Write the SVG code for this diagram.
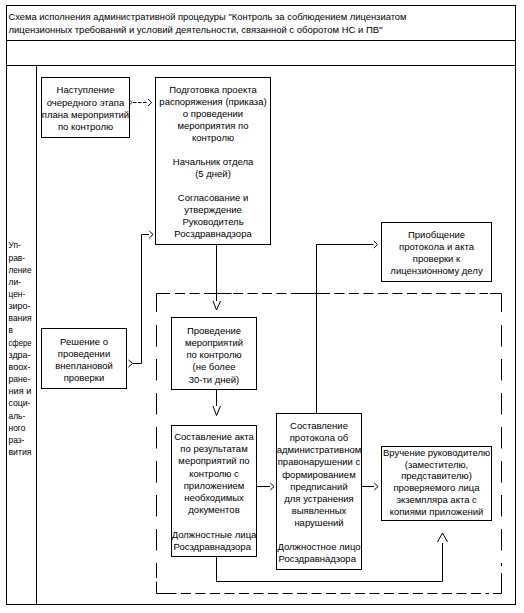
<svg xmlns="http://www.w3.org/2000/svg" width="524" height="613" viewBox="0 0 524 613">
<style>
text{font-family:"Liberation Sans","DejaVu Sans",sans-serif;font-size:9.5px;fill:#000}
.c{text-anchor:middle}
.lb{font-size:8.4px}
.box{fill:#fff;stroke:#000;stroke-width:1}
.ln{fill:none;stroke:#000;stroke-width:1}
.dh{fill:none;stroke:#000;stroke-width:1;stroke-dasharray:10 4.5}
.dv{fill:none;stroke:#000;stroke-width:1;stroke-dasharray:21.5 12.5}
.dd{fill:none;stroke:#000;stroke-width:1;stroke-dasharray:3.5 1.5}
</style>
<rect x="0" y="0" width="524" height="613" fill="#fff"/>
<g id="frame">
<rect x="6.5" y="5.5" width="509" height="599" class="ln"/>
<line x1="6.5" y1="40.5" x2="515.5" y2="40.5" class="ln"/>
<line x1="6.5" y1="65.5" x2="515.5" y2="65.5" class="ln"/>
<line x1="36.5" y1="65.5" x2="36.5" y2="604.5" class="ln"/>
<text x="8.5" y="20" textLength="398" lengthAdjust="spacingAndGlyphs">Схема исполнения административной процедуры "Контроль за соблюдением лицензиатом</text>
<text x="8.5" y="32.7" textLength="374" lengthAdjust="spacingAndGlyphs">лицензионных требований и условий деятельности, связанной с оборотом НС и ПВ"</text>
</g>
<g id="lane-label">
<text class="lb" x="8.5" y="248.3">Уп-</text>
<text class="lb" x="8.5" y="260.5">рав-</text>
<text class="lb" x="8.5" y="272.6" textLength="23" lengthAdjust="spacingAndGlyphs">ление</text>
<text class="lb" x="8.5" y="284.8">ли-</text>
<text class="lb" x="8.5" y="296.9">цен-</text>
<text class="lb" x="8.5" y="309.1" textLength="22" lengthAdjust="spacingAndGlyphs">зиро-</text>
<text class="lb" x="8.5" y="321.3" textLength="23" lengthAdjust="spacingAndGlyphs">вания</text>
<text class="lb" x="8.5" y="333.4">в</text>
<text class="lb" x="8.5" y="345.6" textLength="23" lengthAdjust="spacingAndGlyphs">сфере</text>
<text class="lb" x="8.5" y="357.7" textLength="22" lengthAdjust="spacingAndGlyphs">здра-</text>
<text class="lb" x="8.5" y="369.9" textLength="22" lengthAdjust="spacingAndGlyphs">воох-</text>
<text class="lb" x="8.5" y="382.1" textLength="22" lengthAdjust="spacingAndGlyphs">ране-</text>
<text class="lb" x="8.5" y="394.2" textLength="23" lengthAdjust="spacingAndGlyphs">ния и</text>
<text class="lb" x="8.5" y="406.4" textLength="22" lengthAdjust="spacingAndGlyphs">соци-</text>
<text class="lb" x="8.5" y="418.5">аль-</text>
<text class="lb" x="8.5" y="430.7">ного</text>
<text class="lb" x="8.5" y="442.8">раз-</text>
<text class="lb" x="8.5" y="455" textLength="23" lengthAdjust="spacingAndGlyphs">вития</text>
</g>
<g id="group-frame">
<polyline points="156.5,312 156.5,293.5 170,293.5" class="ln"/>
<line x1="175" y1="293.5" x2="488" y2="293.5" class="dh"/>
<line x1="206.5" y1="293.5" x2="231.5" y2="293.5" class="ln"/>
<line x1="300" y1="293.5" x2="326.5" y2="293.5" class="ln"/>
<polyline points="490,293.5 501.5,293.5 501.5,312" class="ln"/>
<line x1="156.5" y1="325" x2="156.5" y2="578" class="dv"/>
<line x1="501.5" y1="325" x2="501.5" y2="566" class="dv"/>
<polyline points="156.5,581.5 156.5,593.5 176.5,593.5" class="ln"/>
<line x1="181" y1="593.5" x2="489" y2="593.5" class="dh"/>
<polyline points="493,593.5 501.5,593.5 501.5,573" class="ln"/>
</g>
<g id="connectors">
<polyline points="128.5,99 132,102.5 128.5,106" class="ln"/>
<line x1="133" y1="102.5" x2="148" y2="102.5" class="dd"/>
<polyline points="148,99 151.7,102.5 148,106" class="ln"/>
<polyline points="128.5,360 132.5,363.5 128.5,367" class="ln"/>
<polyline points="133,363.5 141.5,363.5 141.5,234.5 149,234.5" class="ln"/>
<polyline points="149.3,231 153,234.5 149.3,238" class="ln"/>
<line x1="216.5" y1="244.5" x2="216.5" y2="301" class="ln"/>
<polyline points="213,301 216.5,310 220.5,301" class="ln"/>
<line x1="216.5" y1="389.5" x2="216.5" y2="406" class="ln"/>
<polyline points="213,406 216.5,415.5 220.5,406" class="ln"/>
<line x1="256.5" y1="486.5" x2="270" y2="486.5" class="ln"/>
<polyline points="270.3,483 274,486.5 270.3,490" class="ln"/>
<line x1="361.5" y1="486.5" x2="374" y2="486.5" class="ln"/>
<polyline points="374.3,483 378,486.5 374.3,490" class="ln"/>
<polyline points="316.5,413.5 316.5,244.5 373.5,244.5" class="ln"/>
<polyline points="373.8,241 377.5,244.5 373.8,248" class="ln"/>
<polyline points="216.5,556.5 216.5,581.5 442.5,581.5 442.5,543" class="ln"/>
<polyline points="437.5,542 442.5,533 447.5,542" class="ln"/>
<polyline points="486.5,241.5 490.5,245 486.5,248.5" class="ln"/>
<polyline points="486.5,471 490.5,474.5 486.5,478" class="ln"/>
</g>
<g id="n-start">
<rect x="41.5" y="77.5" width="88" height="60" class="box"/>
<text class="c" x="85.5" y="93.3">Наступление</text>
<text class="c" x="85.5" y="105.5">очередного этапа</text>
<text class="c" x="85.5" y="117.7">плана мероприятий</text>
<text class="c" x="85.5" y="129.9">по контролю</text>
</g>
<g id="n-prepare">
<rect x="155.5" y="77.5" width="115" height="167" class="box"/>
<text class="c" x="213" y="93.3">Подготовка проекта</text>
<text class="c" x="213" y="105.3">распоряжения (приказа)</text>
<text class="c" x="213" y="117.3">о проведении</text>
<text class="c" x="213" y="129.3">мероприятия по</text>
<text class="c" x="213" y="141.3">контролю</text>
<text class="c" x="213" y="165.3">Начальник отдела</text>
<text class="c" x="213" y="177.3">(5 дней)</text>
<text class="c" x="213" y="201.3">Согласование и</text>
<text class="c" x="213" y="213.3">утверждение</text>
<text class="c" x="213" y="225.3">Руководитель</text>
<text class="c" x="213" y="237.3">Росздравнадзора</text>
</g>
<g id="n-unplanned">
<rect x="41.5" y="328.5" width="85" height="60" class="box"/>
<text class="c" x="84" y="344.5">Решение о</text>
<text class="c" x="84" y="356.7">проведении</text>
<text class="c" x="84" y="368.9">внеплановой</text>
<text class="c" x="84" y="381.1">проверки</text>
</g>
<g id="n-conduct">
<rect x="171.5" y="317.5" width="85" height="72" class="box"/>
<text class="c" x="214" y="333.5">Проведение</text>
<text class="c" x="214" y="345.8">мероприятий</text>
<text class="c" x="214" y="358">по контролю</text>
<text class="c" x="214" y="370.3">(не более</text>
<text class="c" x="214" y="382.5">30-ти дней)</text>
</g>
<g id="n-act">
<rect x="171.5" y="425.5" width="85" height="131" class="box"/>
<text class="c" x="214" y="440">Составление акта</text>
<text class="c" x="214" y="452.2">по результатам</text>
<text class="c" x="214" y="464.4">мероприятий по</text>
<text class="c" x="214" y="476.6">контролю с</text>
<text class="c" x="214" y="488.8">приложением</text>
<text class="c" x="214" y="501">необходимых</text>
<text class="c" x="214" y="513.2">документов</text>
<text class="c" x="214" y="537.6">Должностные лица</text>
<text x="173.5" y="549.8">Росздравнадзора</text>
</g>
<g id="n-protocol">
<rect x="276.5" y="413.5" width="85" height="156" class="box"/>
<text class="c" x="319" y="429.3">Составление</text>
<text class="c" x="319" y="441.3">протокола об</text>
<text class="c" x="319" y="453.4">административном</text>
<text class="c" x="319" y="465.4">правонарушении с</text>
<text class="c" x="319" y="477.5">формированием</text>
<text class="c" x="319" y="489.5">предписаний</text>
<text class="c" x="319" y="501.5">для устранения</text>
<text class="c" x="319" y="513.6">выявленных</text>
<text class="c" x="319" y="525.6">нарушений</text>
<text class="c" x="319" y="549.7">Должностное лицо</text>
<text x="278.5" y="561.7">Росздравнадзора</text>
</g>
<g id="n-handover">
<rect x="381.5" y="446.5" width="110" height="74" class="box"/>
<text class="c" x="436.5" y="456">Вручение руководителю</text>
<text class="c" x="436.5" y="467.7">(заместителю,</text>
<text class="c" x="436.5" y="479.4">представителю)</text>
<text class="c" x="436.5" y="491.1">проверяемого лица</text>
<text class="c" x="436.5" y="502.8">экземпляра акта с</text>
<text class="c" x="436.5" y="514.5">копиями приложений</text>
</g>
<g id="n-attach">
<rect x="381.5" y="222.5" width="110" height="59" class="box"/>
<text class="c" x="436.5" y="238.3">Приобщение</text>
<text class="c" x="436.5" y="250.2">протокола и акта</text>
<text class="c" x="436.5" y="262.1">проверки к</text>
<text class="c" x="436.5" y="274">лицензионному делу</text>
</g>
</svg>
